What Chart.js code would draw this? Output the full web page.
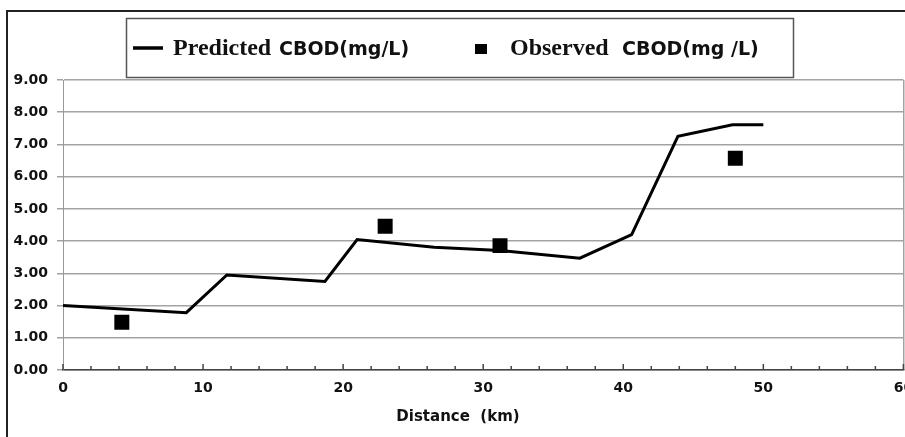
<!DOCTYPE html>
<html>
<head>
<meta charset="utf-8">
<script src="https://cdn.jsdelivr.net/npm/chart.js@4.4.1/dist/chart.umd.min.js"></script>
<style>
  html, body { margin: 0; padding: 0; background: #fff; overflow: hidden; width: 905px; height: 437px; }
  #frame {
    position: absolute; left: 6px; top: 10px; width: 2000px; height: 1000px;
    border-left: 2px solid #222; border-top: 2px solid #222;
  }
  /* canvas is a bit wider than the window so the "60" label runs off the edge like the original */
  #chart { position: absolute; left: 0; top: 0; }
</style>
</head>
<body>
<div id="frame"></div>
<canvas id="chart" width="914" height="437"></canvas>
<script>
// ---- data ----
const predDistance = [0, 8.8, 11.7, 18.7, 21.0, 26.5, 31.2, 36.9, 40.6, 43.9, 47.8, 50.0];
const predCbod     = [2.00, 1.78, 2.95, 2.75, 4.05, 3.81, 3.71, 3.47, 4.20, 7.25, 7.61, 7.61];

const obsDistance = [4.2, 23.0, 31.2, 48.0];
const obsCbod     = [1.48, 4.46, 3.86, 6.57];

const xTicksMajor = [0, 10, 20, 30, 40, 50, 60];
const yTickLabels = ['0.00', '1.00', '2.00', '3.00', '4.00', '5.00', '6.00', '7.00', '8.00', '9.00'];

const predLabel = 'Predicted CBOD(mg/L)';
const obsLabel = 'Observed  CBOD(mg /L)';
const xTitle = 'Distance  (km)';

const GRID = '#a3a3a3';
const SANS = '"DejaVu Sans", Verdana, sans-serif';
const SERIF = '"Liberation Serif", "Times New Roman", serif';

// legend box drawn by hand so the label can mix a serif word with sans text
const boxLegend = {
  id: 'boxLegend',
  afterDraw(chart) {
    const ctx = chart.ctx;
    ctx.save();
    ctx.fillStyle = '#fff';
    ctx.strokeStyle = '#555';
    ctx.lineWidth = 1.5;
    ctx.fillRect(126.5, 18.5, 667, 59);
    ctx.strokeRect(126.5, 18.5, 667, 59);

    const items = [
      { ds: 0, markX: 133, wordX: 173, restX: 279 },
      { ds: 1, markX: 475, wordX: 510, restX: 622 }
    ];
    items.forEach(it => {
      const ds = chart.data.datasets[it.ds];
      if (ds.showLine) {
        ctx.strokeStyle = ds.borderColor;
        ctx.lineWidth = 3.5;
        ctx.beginPath();
        ctx.moveTo(it.markX, 48);
        ctx.lineTo(it.markX + 30, 48);
        ctx.stroke();
      } else {
        ctx.fillStyle = ds.backgroundColor;
        ctx.fillRect(it.markX, 44, 12, 10);
      }
      const first = ds.label.split(' ')[0];
      const rest = ds.label.slice(first.length).trim();
      ctx.fillStyle = '#111';
      ctx.textBaseline = 'alphabetic';
      ctx.font = 'bold 24px ' + SERIF;
      ctx.fillText(first, it.wordX, 55);
      ctx.font = 'bold 19px ' + SANS;
      ctx.fillText(rest, it.restX, 55);
    });
    ctx.restore();
  }
};

// small tick marks pointing into the plot on the x axis
const innerTicks = {
  id: 'innerTicks',
  afterDatasetsDraw(chart) {
    const ctx = chart.ctx;
    const x = chart.scales.x;
    const bottom = chart.chartArea.bottom;
    ctx.save();
    ctx.strokeStyle = '#444';
    ctx.lineWidth = 1.5;
    x.ticks.forEach(t => {
      const px = x.getPixelForValue(t.value);
      const len = xTicksMajor.includes(t.value) ? 6 : 4;
      ctx.beginPath();
      ctx.moveTo(px, bottom);
      ctx.lineTo(px, bottom - len);
      ctx.stroke();
    });
    ctx.restore();
  }
};

new Chart(document.getElementById('chart'), {
  type: 'scatter',
  data: {
    datasets: [
      {
        label: predLabel,
        data: predDistance.map((d, i) => ({ x: d, y: predCbod[i] })),
        showLine: true,
        borderColor: '#000',
        backgroundColor: '#000',
        borderWidth: 3,
        pointRadius: 0,
        tension: 0
      },
      {
        label: obsLabel,
        data: obsDistance.map((d, i) => ({ x: d, y: obsCbod[i] })),
        showLine: false,
        pointStyle: 'rect',
        pointRadius: 10.6,
        borderWidth: 0,
        borderColor: '#000',
        backgroundColor: '#000'
      }
    ]
  },
  options: {
    responsive: false,
    animation: false,
    layout: { padding: { left: 2, right: 0, top: 80, bottom: 0 } },
    plugins: {
      legend: { display: false },
      tooltip: { enabled: false },
      title: {
        display: true,
        position: 'bottom',
        text: xTitle,
        color: '#111',
        font: { family: SANS, size: 15, weight: 'bold' },
        padding: { top: 0, bottom: 11 }
      }
    },
    scales: {
      x: {
        type: 'linear',
        min: 0,
        max: 60,
        afterFit(scale) { scale.height = 38; scale.paddingLeft = 0; scale.paddingRight = 0; },
        ticks: {
          stepSize: 2,
          autoSkip: false,
          maxRotation: 0,
          padding: 10,
          color: '#111',
          font: { family: SANS, size: 14, weight: 'bold' },
          callback: v => (xTicksMajor.includes(v) ? String(v) : '')
        },
        grid: {
          drawTicks: false,
          lineWidth: 1.5,
          color: c => (c.tick && c.tick.value === 60 ? GRID : 'rgba(0,0,0,0)')
        },
        border: { color: '#444', width: 1.5 }
      },
      y: {
        min: 0,
        max: 9,
        afterFit(scale) { scale.width = 61; scale.paddingTop = 0; scale.paddingBottom = 0; },
        ticks: {
          stepSize: 1,
          padding: 9,
          color: '#111',
          font: { family: SANS, size: 14, weight: 'bold' },
          callback: v => yTickLabels[v]
        },
        grid: {
          color: GRID,
          lineWidth: 1.5,
          tickLength: 6,
          tickColor: GRID
        },
        border: { color: '#999', width: 1 }
      }
    }
  },
  plugins: [boxLegend, innerTicks]
});
</script>
</body>
</html>
